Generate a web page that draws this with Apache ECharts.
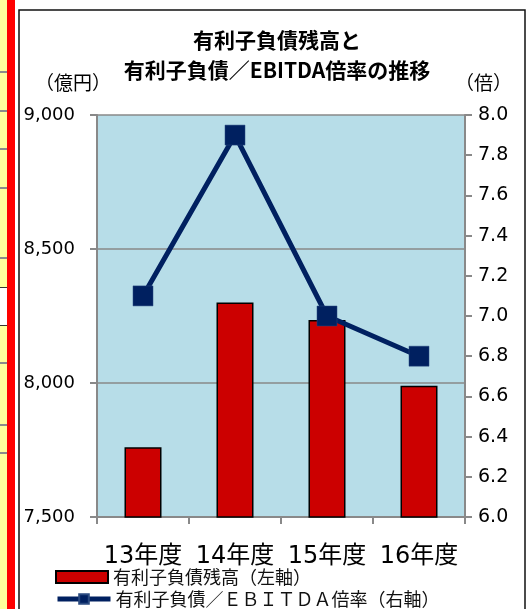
<!DOCTYPE html>
<html><head><meta charset="utf-8">
<script src="https://cdn.jsdelivr.net/npm/echarts@6/dist/echarts.min.js"></script>
<style>html,body{margin:0;padding:0;background:#fff}#c{width:527px;height:609px}</style>
</head><body><div id="c"></div>
<script>
const categories = ['13年度', '14年度', '15年度', '16年度'];
const debtBalance = [7760, 8300, 8235, 7990];
const ebitdaRatio = [7.1, 7.9, 7.0, 6.8];
const leftTicks = { min: 7500, max: 9000, interval: 500 };
const rightTicks = { min: 6.0, max: 8.0, interval: 0.2 };
const seriesNames = ['有利子負債残高（左軸）', '有利子負債／ＥＢＩＴＤＡ倍率（右軸）'];
const titleText = '有利子負債残高と\n有利子負債／EBITDA倍率の推移';

const FONT = 'DejaVu Sans, "Noto Sans CJK JP", sans-serif';
const JP = '"Noto Sans CJK JP", sans-serif';
const AX = '#898989';

const stripLines = [72, 111, 149, 188, 258, 363, 425, 453];
const graphic = [
  { type: 'rect', shape: { x: 0, y: 0, width: 8, height: 609 }, style: { fill: '#FFFF9C' }, z: 0 },
  { type: 'rect', shape: { x: 0, y: 287, width: 8, height: 38 }, style: { fill: '#FFFFFF' }, z: 1 },
  { type: 'line', shape: { x1: 0, y1: 287.5, x2: 8, y2: 287.5 }, style: { stroke: '#333', lineWidth: 1 }, z: 1 },
  { type: 'line', shape: { x1: 0, y1: 325.5, x2: 8, y2: 325.5 }, style: { stroke: '#333', lineWidth: 1 }, z: 1 },
  { type: 'rect', shape: { x: 7, y: 0, width: 8, height: 609 }, style: { fill: '#FF0000' }, z: 1 },
  { type: 'rect', shape: { x: 19, y: 10, width: 506, height: 640 }, style: { fill: 'none', stroke: '#111', lineWidth: 1.5 }, z: 1 },
  { type: 'text', left: 35, top: 73, style: { text: '（億円）', font: '19px ' + JP, fill: '#000' }, z: 5 },
  { type: 'text', left: 455, top: 73, style: { text: '（倍）', font: '19px ' + JP, fill: '#000' }, z: 5 }
];
stripLines.forEach(y => graphic.push({ type: 'line', shape: { x1: 0, y1: y, x2: 7, y2: y }, style: { stroke: '#8C8C8C', lineWidth: 2 }, z: 1 }));

const legendText = { fontFamily: JP, fontSize: 18, color: '#111' };

const chart = echarts.init(document.getElementById('c'), null, { renderer: 'canvas' });
chart.setOption({
  animation: false,
  backgroundColor: '#fff',
  title: {
    text: titleText, left: 272, top: 20, textAlign: 'center',
    textStyle: { fontFamily: JP, fontWeight: 'bold', fontSize: 21, lineHeight: 30, color: '#000' }
  },
  graphic: graphic,
  grid: { left: 97, right: 62, top: 115, bottom: 92, show: true, backgroundColor: '#B7DDE8', borderWidth: 0 },
  legend: [
    { left: 50, top: 563, itemWidth: 52, itemHeight: 12, itemGap: 0, textStyle: legendText,
      data: [{ name: seriesNames[0], icon: 'rect' }] },
    { left: 50, top: 585, itemWidth: 53, itemHeight: 12, itemGap: 0, textStyle: legendText,
      lineStyle: { width: 5 },
      data: [{ name: seriesNames[1] }] }
  ],
  xAxis: {
    type: 'category', data: categories, boundaryGap: true,
    axisLine: { lineStyle: { color: AX, width: 2 } },
    axisTick: { show: true, length: 7, lineStyle: { color: AX, width: 2 } },
    axisLabel: { fontFamily: FONT, fontSize: 24, color: '#000', margin: 28, interval: 0 }
  },
  yAxis: [
    {
      type: 'value', min: leftTicks.min, max: leftTicks.max, interval: leftTicks.interval,
      axisLine: { show: true, lineStyle: { color: AX, width: 2 } },
      axisTick: { show: true, length: 7, lineStyle: { color: AX, width: 2 } },
      splitLine: { show: true, lineStyle: { color: AX, width: 1.5 } },
      axisLabel: { fontFamily: FONT, fontSize: 18, color: '#000', margin: 22,
        formatter: v => v.toLocaleString('en-US') }
    },
    {
      type: 'value', min: rightTicks.min, max: rightTicks.max, interval: rightTicks.interval,
      position: 'right',
      axisLine: { show: true, lineStyle: { color: AX, width: 2 } },
      axisTick: { show: true, length: 7, lineStyle: { color: AX, width: 2 } },
      splitLine: { show: false },
      axisLabel: { fontFamily: FONT, fontSize: 19, color: '#000', margin: 13,
        formatter: v => v.toFixed(1) }
    }
  ],
  series: [
    {
      name: seriesNames[0], type: 'bar', data: debtBalance, barWidth: 37, yAxisIndex: 0,
      itemStyle: { color: '#CC0000', borderColor: '#000', borderWidth: 1.5 }
    },
    {
      name: seriesNames[1], type: 'line', data: ebitdaRatio, yAxisIndex: 1,
      symbol: 'rect', symbolSize: 20,
      lineStyle: { color: '#002060', width: 5 },
      itemStyle: { color: '#002060', borderColor: '#2a4a80', borderWidth: 0.5 }
    }
  ]
});
</script></body></html>
